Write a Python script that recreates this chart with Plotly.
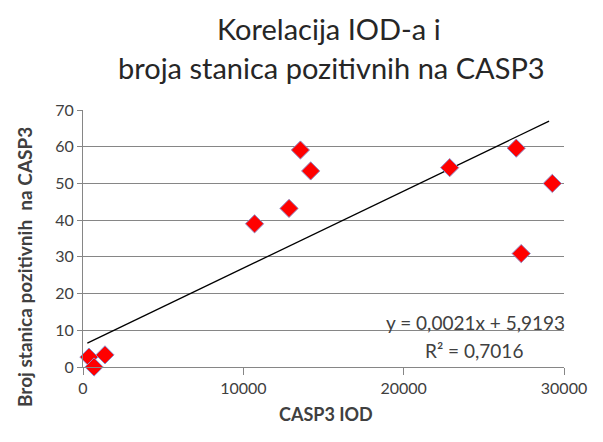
import numpy as np
import plotly.graph_objects as go

# CASP3 IOD vs. number of CASP3-positive cells
iod = [370, 690, 1370, 10700, 12850, 13560, 14200, 22870, 27020, 27330, 29270]
cells = [2.7, 0.0, 3.3, 39.0, 43.2, 59.1, 53.4, 54.3, 59.6, 30.9, 50.0]

# Linear trend as reported on the chart
slope = 0.0021
intercept = 5.9193
r_squared = 0.7016

x_ticks = [0, 10000, 20000, 30000]
y_ticks = [0, 10, 20, 30, 40, 50, 60, 70]

title_lines = ["Korelacija IOD-a i", "broja stanica pozitivnih na CASP3"]
x_title = "CASP3 IOD"
y_title = "Broj stanica pozitivnih  na CASP3"

trend_x = np.array([min(iod) - 100, max(iod) - 200])
trend_y = slope * trend_x + intercept

txt = "#404040"
font = "Lato, 'Open Sans', sans-serif"

fig = go.Figure()
fig.add_trace(go.Scatter(
    x=trend_x, y=trend_y, mode="lines",
    line=dict(color="black", width=1.3),
    hoverinfo="skip", showlegend=False,
))
fig.add_trace(go.Scatter(
    x=iod, y=cells, mode="markers",
    marker=dict(symbol="diamond", size=14, color="#ff0000",
                line=dict(color="#8c8cc8", width=1)),
    cliponaxis=False, showlegend=False,
))

W, H = 603, 442
ML, MR, MT, MB = 83, 39, 110, 75
pw, ph = W - ML - MR, H - MT - MB


def px_x(p):
    return (p - ML) / pw


def px_y(p):
    return (H - MB - p) / ph


annotations = [
    dict(text=title_lines[0], x=px_x(329), y=px_y(28), xref="paper", yref="paper",
         xanchor="center", yanchor="middle", showarrow=False,
         font=dict(size=29, color="#262626")),
    dict(text=title_lines[1], x=px_x(331), y=px_y(68), xref="paper", yref="paper",
         xanchor="center", yanchor="middle", showarrow=False,
         font=dict(size=29, color="#262626")),
    dict(text="<b>%s</b>" % x_title, x=px_x(326), y=px_y(414), xref="paper", yref="paper",
         xanchor="center", yanchor="middle", showarrow=False,
         font=dict(size=18, color=txt)),
    dict(text="<b>%s</b>" % y_title, x=px_x(24), y=px_y(267), xref="paper", yref="paper",
         xanchor="center", yanchor="middle", showarrow=False, textangle=-90,
         font=dict(size=19, color=txt)),
    dict(text="y = 0,0021x + 5,9193", x=px_x(567), y=px_y(322),
         xref="paper", yref="paper", xanchor="right", yanchor="middle",
         showarrow=False, font=dict(size=19, color=txt)),
    dict(text="R² = 0,7016", x=px_x(474), y=px_y(350),
         xref="paper", yref="paper", xanchor="center", yanchor="middle",
         showarrow=False, font=dict(size=19, color=txt)),
]

fig.update_layout(
    width=W, height=H,
    margin=dict(l=ML, r=MR, t=MT, b=MB),
    paper_bgcolor="white", plot_bgcolor="white",
    font=dict(family=font, color=txt),
    xaxis=dict(
        range=[0, 30000], tickvals=x_ticks, ticktext=[str(v) for v in x_ticks],
        showgrid=False, zeroline=False,
        showline=True, linecolor="#868686", linewidth=1,
        ticks="outside", ticklen=7, tickcolor="#868686",
        tickfont=dict(size=16, color=txt),
    ),
    yaxis=dict(
        range=[0, 70], tickvals=y_ticks,
        showgrid=True, gridcolor="#868686", gridwidth=1,
        zeroline=False,
        showline=True, linecolor="#868686", linewidth=1,
        ticks="outside", ticklen=5, tickcolor="#868686",
        tickfont=dict(size=16, color=txt),
    ),
    annotations=annotations,
)

fig.write_html("out.html")
